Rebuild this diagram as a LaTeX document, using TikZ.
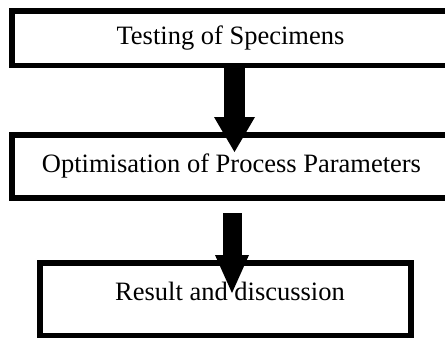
\documentclass[tikz,border=0pt]{standalone}
\usepackage{fontspec}
\setmainfont{Liberation Serif}
\usetikzlibrary{arrows.meta}
\begin{document}
\begin{tikzpicture}[x=1pt,y=-1pt,
  boxnode/.style={draw=black,line width=5.5pt,inner sep=0pt,fill=white},
  txt/.style={font=\fontsize{26.5}{30}\selectfont,anchor=base,inner sep=0pt},
  bigarrowA/.style={line width=21pt,-{Triangle[length=35pt,width=41pt,line width=0pt]}},
  bigarrowB/.style={line width=19pt,-{Triangle[length=38pt,width=34pt,line width=0pt]}}]
\useasboundingbox (0,0) rectangle (445,340);
\clip (0,0) rectangle (445,340);
\node[boxnode,minimum width=436pt,minimum height=54.5pt] (b1) at (230,38.25) {};
\node[boxnode,minimum width=458pt,minimum height=63pt] (b2) at (241,166.5) {};
\node[boxnode,minimum width=371pt,minimum height=72.5pt] (b3) at (225.5,299.25) {};
\node[txt] (l1) at (230.5,44) {Testing of Specimens};
\node[txt] (l2) at (231.5,172) {Optimisation of Process Parameters};
\node[txt] (l3) at (230,300) {Result and discussion};
\coordinate (t1) at (234.5,152);
\coordinate (s2) at (232,213);
\coordinate (t2) at (232,293);
\draw[bigarrowA] (b1.south -| t1) -- (t1);
\draw[bigarrowB] (s2) -- (t2);
\end{tikzpicture}
\end{document}
